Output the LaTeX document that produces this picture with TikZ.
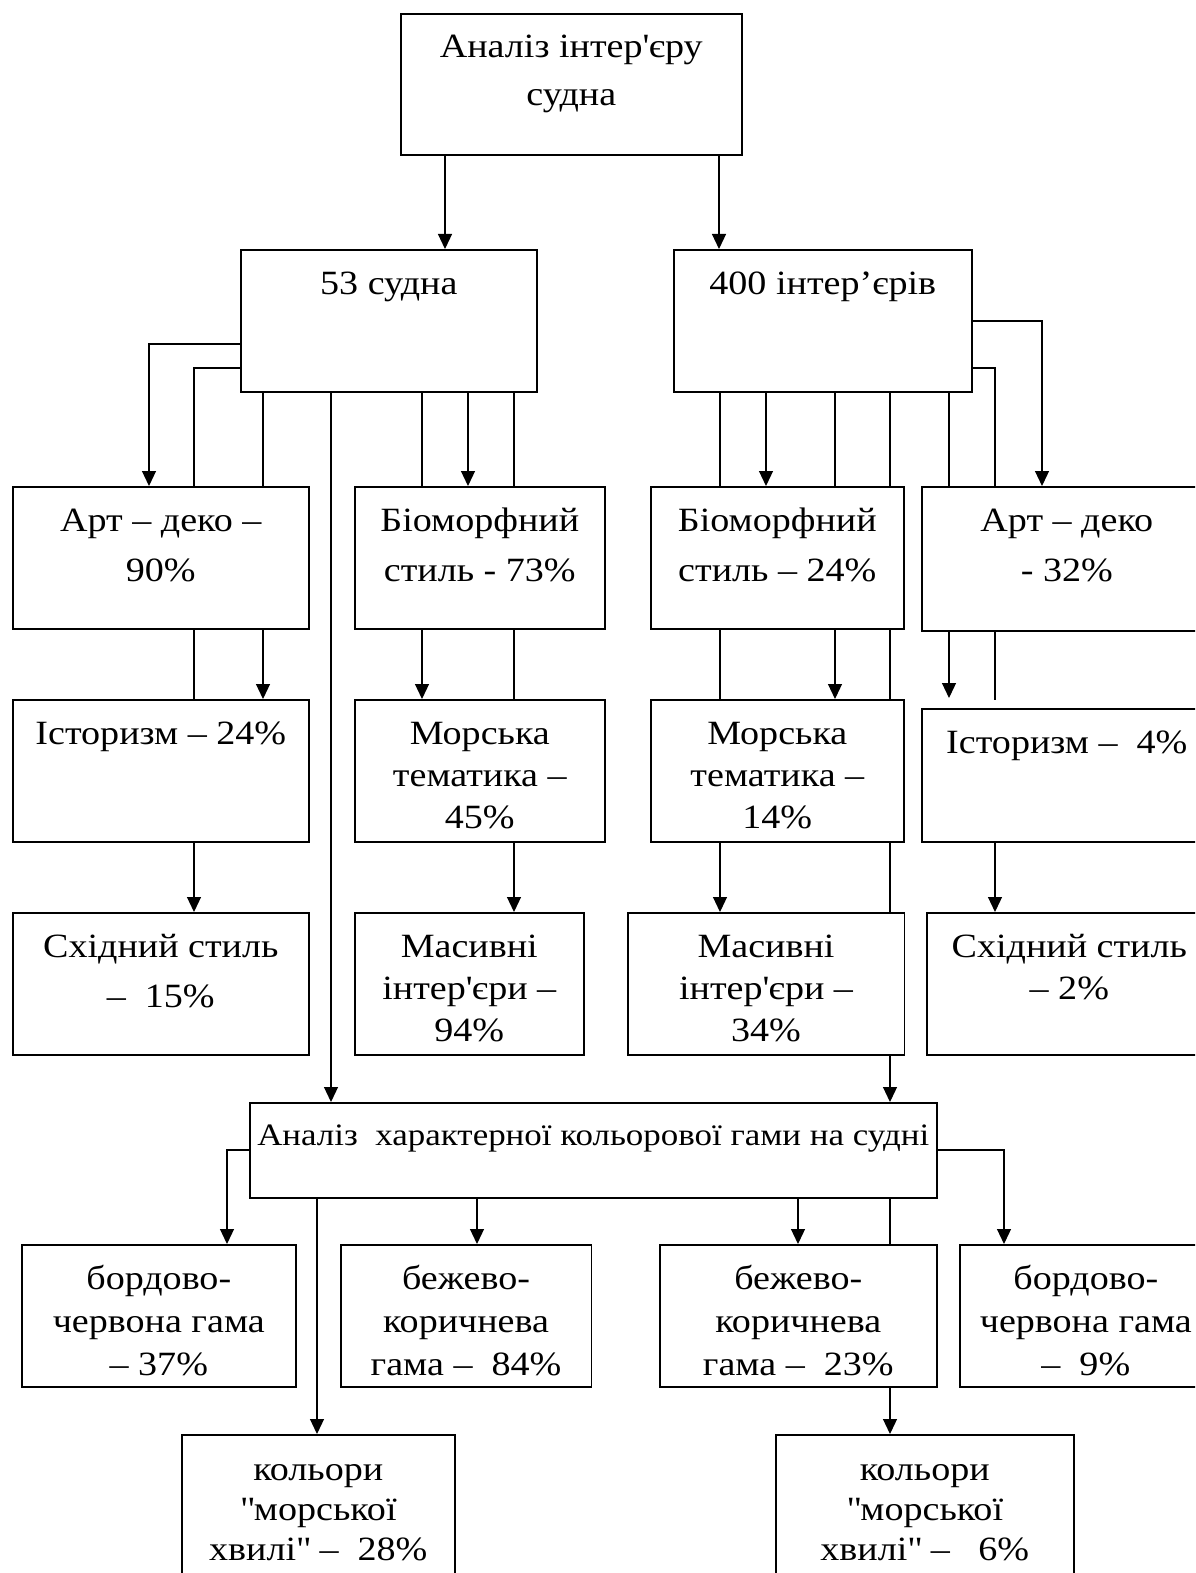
\documentclass[tikz,border=0pt]{standalone}
\usepackage{fontspec}
\setmainfont{Liberation Serif}[FakeStretch=1.12]
\usetikzlibrary{arrows.meta}
\newcommand{\ap}{\textquotesingle}
\newcommand{\qq}{\textquotedbl}
\tikzset{
  box/.style={draw, line width=0.8pt, anchor=north west, inner sep=0pt},
  txt/.style={anchor=base, align=center, inner sep=0pt, font=\fontsize{17}{21}\selectfont},
  loose/.style={font=\fontsize{17}{25}\selectfont},
  arr/.style={-{Triangle[length=7.5pt,width=7pt]}}
}
\begin{document}
\begin{tikzpicture}[x=0.5pt, y=-0.5pt, line width=0.6pt]
\useasboundingbox (0,0) rectangle (1195,1573);
\clip (0,0) rectangle (1195,1573);

% Title and the two counts
\node[box, minimum width=170.5pt, minimum height=70.5pt] (top) at (400,13) {};
\node[box, minimum width=148pt, minimum height=71pt] (s53) at (240,249) {};
\node[box, minimum width=149pt, minimum height=71pt] (i400) at (673,249) {};
\node[txt, font=\fontsize{17}{24}\selectfont] (t-top) at ([yshift=-46.5pt]top.north) {Аналіз інтер\ap{}єру\\судна};
\node[txt] (t-s53) at ([yshift=-22.5pt]s53.north) {53 судна};
\node[txt] (t-i400) at ([yshift=-22.5pt]i400.north) {400 інтер’єрів};

% First row of styles
\node[box, minimum width=148pt, minimum height=71pt] (ad90) at (12,486) {};
\node[box, minimum width=125pt, minimum height=71pt] (bm73) at (354,486) {};
\node[box, minimum width=126.5pt, minimum height=71pt] (bm24) at (650,486) {};
\node[box, minimum width=145pt, minimum height=72pt] (ad32) at (921,486) {};
\node[txt, loose] (t-ad90) at ([yshift=-47.5pt]ad90.north) {Арт – деко –\\90\%};
\node[txt, loose] (t-bm73) at ([yshift=-47.5pt]bm73.north) {Біоморфний\\стиль - 73\%};
\node[txt, loose] (t-bm24) at ([yshift=-47.5pt]bm24.north) {Біоморфний\\стиль – 24\%};
\node[txt, loose] (t-ad32) at ([yshift=-47.5pt]ad32.north) {Арт – деко\\- 32\%};

% Second row
\node[box, minimum width=148pt, minimum height=71pt] (ist24) at (12,699) {};
\node[box, minimum width=125pt, minimum height=71pt] (mr45) at (354,699) {};
\node[box, minimum width=126.5pt, minimum height=71pt] (mr14) at (650,699) {};
\node[box, minimum width=145pt, minimum height=66.5pt] (ist4) at (921,708) {};
\node[txt] (t-ist24) at ([yshift=-22.5pt]ist24.north) {Історизм – 24\%};
\node[txt] (t-mr45) at ([yshift=-64.5pt]mr45.north) {Морська\\тематика –\\45\%};
\node[txt] (t-mr14) at ([yshift=-64.5pt]mr14.north) {Морська\\тематика –\\14\%};
\node[txt] (t-ist4) at ([yshift=-22.5pt]ist4.north) {Історизм – ~4\%};

% Third row
\node[box, minimum width=148pt, minimum height=71pt] (sh15) at (12,912) {};
\node[box, minimum width=114.5pt, minimum height=71pt] (ms94) at (354,912) {};
\node[box, minimum width=138.25pt, minimum height=71pt] (ms34) at (627,912) {};
\node[box, minimum width=142.5pt, minimum height=71pt] (sh2) at (926,912) {};
\node[txt, loose] (t-sh15) at ([yshift=-47.5pt]sh15.north) {Східний стиль\\– ~15\%};
\node[txt] (t-ms94) at ([yshift=-64.5pt]ms94.north) {Масивні\\інтер\ap{}єри –\\94\%};
\node[txt] (t-ms34) at ([yshift=-64.5pt]ms34.north) {Масивні\\інтер\ap{}єри –\\34\%};
\node[txt] (t-sh2) at ([yshift=-43.5pt]sh2.north) {Східний стиль\\– 2\%};

% Colour analysis and its results
\node[box, minimum width=343.5pt, minimum height=47.5pt] (an) at (249,1102) {};
\node[txt, font=\fontsize{15.6}{21}\selectfont] (t-an) at ([yshift=-21.5pt]an.north) {Аналіз ~характерної кольорової гами на судні};
\node[box, minimum width=137pt, minimum height=71pt] (br37) at (21,1244) {};
\node[box, minimum width=125.25pt, minimum height=71pt] (bz84) at (340,1244) {};
\node[box, minimum width=138.5pt, minimum height=71pt] (bz23) at (659,1244) {};
\node[box, minimum width=126pt, minimum height=71pt] (br9) at (959,1244) {};
\node[txt, font=\fontsize{17}{21.5}\selectfont] (t-br37) at ([yshift=-65.5pt]br37.north) {бордово-\\червона гама\\– 37\%};
\node[txt, font=\fontsize{17}{21.5}\selectfont] (t-bz84) at ([yshift=-65.5pt]bz84.north) {бежево-\\коричнева\\гама – ~84\%};
\node[txt, font=\fontsize{17}{21.5}\selectfont] (t-bz23) at ([yshift=-65.5pt]bz23.north) {бежево-\\коричнева\\гама – ~23\%};
\node[txt, font=\fontsize{17}{21.5}\selectfont] (t-br9) at ([yshift=-65.5pt]br9.north) {бордово-\\червона гама\\– ~9\%};
\node[box, minimum width=136.5pt, minimum height=85pt] (kl28) at (181,1434) {};
\node[box, minimum width=149pt, minimum height=85pt] (kl6) at (775,1434) {};
\node[txt, font=\fontsize{17}{20}\selectfont] (t-kl28) at ([yshift=-63pt]kl28.north) {кольори\\\qq{}морської\\хвилі\qq{} – ~28\%};
\node[txt, font=\fontsize{17}{20}\selectfont] (t-kl6) at ([yshift=-63pt]kl6.north) {кольори\\\qq{}морської\\хвилі\qq{} – ~~6\%};

% free ends above Історизм - 4%
\coordinate (e949) at (949,698);
\coordinate (e995) at (995,700);

% Title to counts
\draw[arr] (top.south -| 445,0) -- (s53.north -| 445,0);
\draw[arr] (top.south -| 719,0) -- (i400.north -| 719,0);

% Branches of 53 судна
\draw[arr] (s53.west |- 0,344) -| (ad90.north -| 149,0);
\draw (s53.west |- 0,368) -| (ad90.north -| 194,0);
\draw (s53.south -| 263,0) -- (ad90.north -| 263,0);
\draw[arr] (s53.south -| 331,0) -- (an.north -| 331,0);
\draw (s53.south -| 422,0) -- (bm73.north -| 422,0);
\draw[arr] (s53.south -| 468,0) -- (bm73.north -| 468,0);
\draw (s53.south -| 514,0) -- (bm73.north -| 514,0);
\draw (ad90.south -| 194,0) -- (ist24.north -| 194,0);
\draw[arr] (ad90.south -| 263,0) -- (ist24.north -| 263,0);
\draw[arr] (bm73.south -| 422,0) -- (mr45.north -| 422,0);
\draw (bm73.south -| 514,0) -- (mr45.north -| 514,0);
\draw[arr] (ist24.south -| 194,0) -- (sh15.north -| 194,0);
\draw[arr] (mr45.south -| 514,0) -- (ms94.north -| 514,0);

% Branches of 400 інтер'єрів
\draw (i400.south -| 720,0) -- (bm24.north -| 720,0);
\draw[arr] (i400.south -| 766,0) -- (bm24.north -| 766,0);
\draw (i400.south -| 835,0) -- (bm24.north -| 835,0);
\draw (i400.south -| 890,0) -- (bm24.north -| 890,0);
\draw (i400.south -| 949,0) -- (ad32.north -| 949,0);
\draw (i400.east |- 0,368) -| (ad32.north -| 995,0);
\draw[arr] (i400.east |- 0,321) -| (ad32.north -| 1042,0);
\draw (bm24.south -| 720,0) -- (mr14.north -| 720,0);
\draw[arr] (bm24.south -| 835,0) -- (mr14.north -| 835,0);
\draw (bm24.south -| 890,0) -- (mr14.north -| 890,0);
\draw[arr] (ad32.south -| e949) -- (e949);
\draw (ad32.south -| e995) -- (e995);
\draw[arr] (mr14.south -| 720,0) -- (ms34.north -| 720,0);
\draw (mr14.south -| 890,0) -- (ms34.north -| 890,0);
\draw[arr] (ms34.south -| 890,0) -- (an.north -| 890,0);
\draw[arr] (ist4.south -| 995,0) -- (sh2.north -| 995,0);

% Colour analysis
\draw[arr] (an.west |- 0,1150) -| (br37.north -| 227,0);
\draw[arr] (an.south -| 317,0) -- (kl28.north -| 317,0);
\draw[arr] (an.south -| 477,0) -- (bz84.north -| 477,0);
\draw[arr] (an.south -| 798,0) -- (bz23.north -| 798,0);
\draw (an.south -| 890,0) -- (bz23.north -| 890,0);
\draw[arr] (bz23.south -| 890,0) -- (kl6.north -| 890,0);
\draw[arr] (an.east |- 0,1150) -| (br9.north -| 1004,0);

\end{tikzpicture}
\end{document}
